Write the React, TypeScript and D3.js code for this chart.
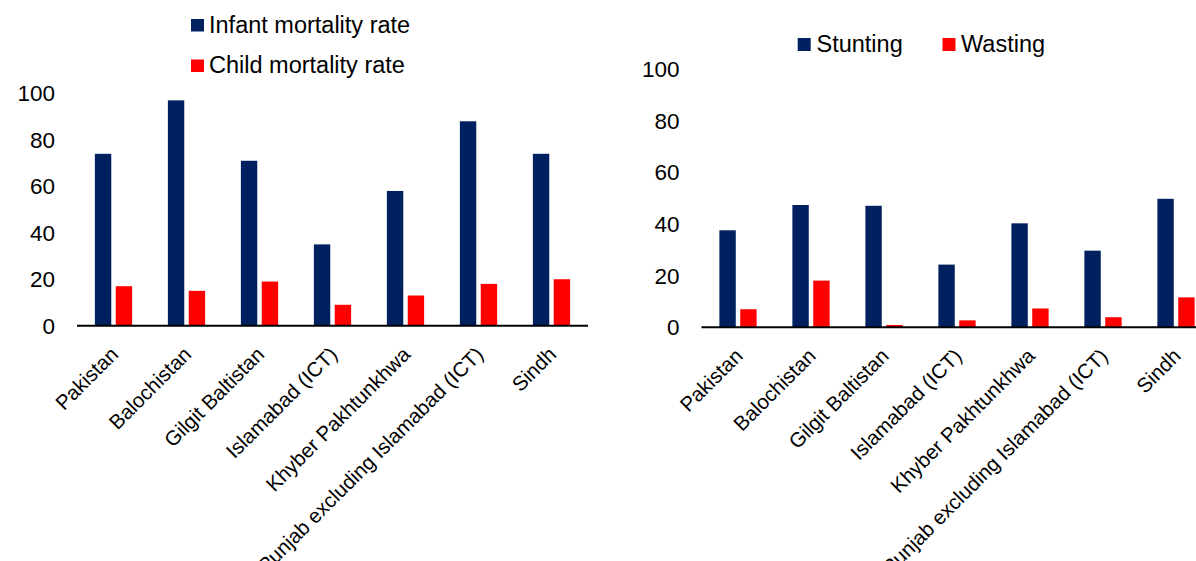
import React from "react";
import * as d3 from "d3";

const categories = [
  "Pakistan",
  "Balochistan",
  "Gilgit Baltistan",
  "Islamabad (ICT)",
  "Khyber Pakhtunkhwa",
  "Punjab excluding Islamabad (ICT)",
  "Sindh",
];
const infantMortality = [74, 97, 71, 35, 58, 88, 74];
const childMortality = [17, 15, 19, 9, 13, 18, 20];
const stunting = [37.6, 47.4, 47.1, 24.3, 40.3, 29.7, 49.8];
const wasting = [7.0, 18.1, 0.9, 2.7, 7.3, 3.9, 11.6];
const yTicks = [0, 20, 40, 60, 80, 100];

const NAVY = "#002060";
const RED = "#FF0000";
const FONT = "'Liberation Sans', Arial, sans-serif";

type PanelProps = {
  x0: number;
  x1: number;
  y0: number;
  y100: number;
  labelRight: number;
  s1: number[];
  s2: number[];
};

function Panel({ x0, x1, y0, y100, labelRight, s1, s2 }: PanelProps) {
  const x = d3.scaleBand<string>().domain(categories).range([x0, x1]).padding(0);
  const sub = d3
    .scaleBand<string>()
    .domain(["a", "b"])
    .range([0, x.bandwidth()])
    .paddingInner(0.214)
    .paddingOuter(0.857);
  const y = d3.scaleLinear().domain([0, 100]).range([y0, y100]);
  return (
    <g>
      {yTicks.map((t) => (
        <text
          key={t}
          x={labelRight}
          y={y(t)}
          dy="0.35em"
          textAnchor="end"
          fontSize={22.5}
          fill="#000"
        >
          {t}
        </text>
      ))}
      {categories.map((c, i) => (
        <g key={c} transform={`translate(${x(c)},0)`}>
          <rect
            x={sub("a")}
            y={y(s1[i])}
            width={sub.bandwidth()}
            height={y(0) - y(s1[i])}
            fill={NAVY}
          />
          <rect
            x={sub("b")}
            y={y(s2[i])}
            width={sub.bandwidth()}
            height={y(0) - y(s2[i])}
            fill={RED}
          />
        </g>
      ))}
      <line x1={x0} x2={x1} y1={y(0)} y2={y(0)} stroke="#000" strokeWidth={2} />
      {categories.map((c) => {
        const cx = (x(c) as number) + x.bandwidth() / 2 + 6;
        const cy = y(0) + 30;
        return (
          <text
            key={c}
            transform={`translate(${cx},${cy}) rotate(-45)`}
            textAnchor="end"
            fontSize={20.5}
            fill="#000"
          >
            {c}
          </text>
        );
      })}
    </g>
  );
}

export default function App() {
  return (
    <svg
      width={1196}
      height={561}
      style={{ position: "absolute", left: 0, top: 0, background: "#fff" }}
      fontFamily={FONT}
    >
      <rect x={0} y={0} width={1196} height={561} fill="#fff" />
      <Panel
        x0={77}
        x1={588}
        y0={325.7}
        y100={93.4}
        labelRight={55}
        s1={infantMortality}
        s2={childMortality}
      />
      <Panel
        x0={701.5}
        x1={1212.5}
        y0={327.3}
        y100={69.3}
        labelRight={679.5}
        s1={stunting}
        s2={wasting}
      />
      {/* left legend */}
      <rect x={191} y={19} width={13} height={12.5} fill={NAVY} />
      <text x={209} y={32.7} fontSize={23.5} fill="#000">
        Infant mortality rate
      </text>
      <rect x={191} y={59.5} width={13} height={12.5} fill={RED} />
      <text x={209} y={73.3} fontSize={23.5} fill="#000">
        Child mortality rate
      </text>
      {/* right legend */}
      <rect x={797.7} y={38} width={13} height={13} fill={NAVY} />
      <text x={816.5} y={52} fontSize={23.5} fill="#000">
        Stunting
      </text>
      <rect x={942.5} y={38} width={13} height={13} fill={RED} />
      <text x={961} y={52} fontSize={23.5} fill="#000">
        Wasting
      </text>
    </svg>
  );
}
